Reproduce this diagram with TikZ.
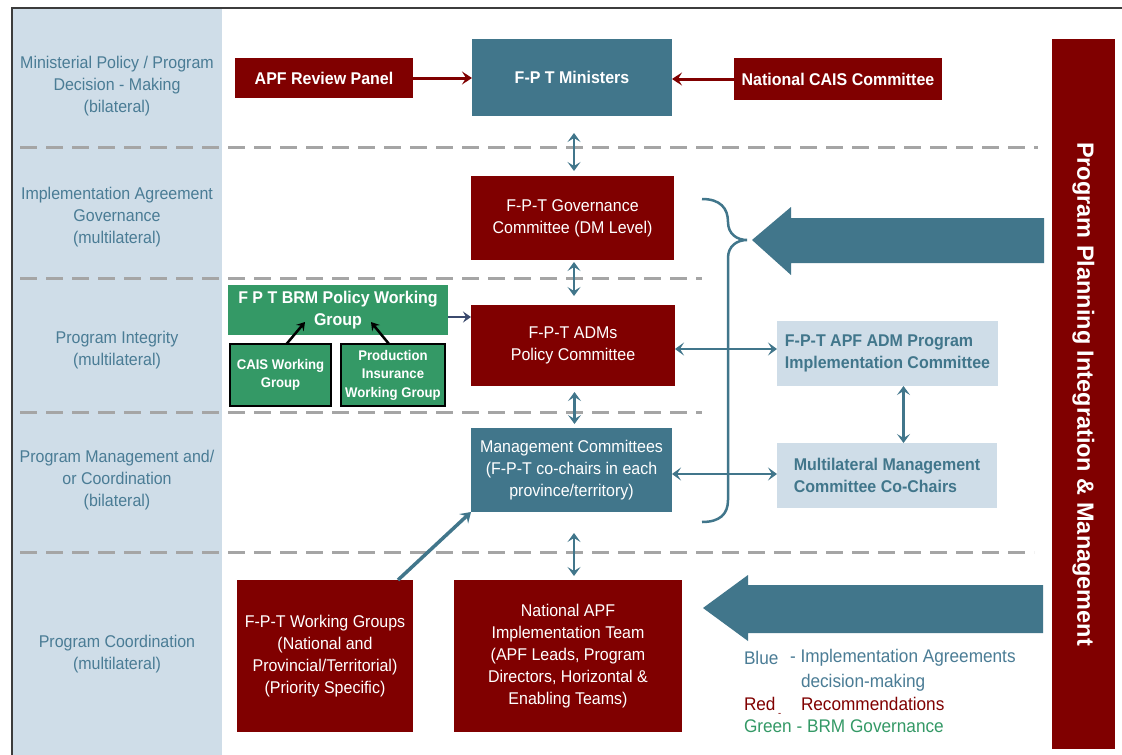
\documentclass[tikz,border=0pt]{standalone}
\usepackage{fontspec}
\setmainfont{Liberation Sans}[FakeStretch=0.94]
\newfontfamily\barfont{Liberation Sans}
\usetikzlibrary{arrows.meta,calc}
\definecolor{dred}{RGB}{128,0,0}
\definecolor{tblue}{RGB}{65,118,139}
\definecolor{lblue}{RGB}{207,221,232}
\definecolor{lgreen}{RGB}{52,153,102}
\definecolor{labtxt}{RGB}{74,124,149}
\definecolor{dashgray}{RGB}{165,165,165}
\definecolor{navy}{RGB}{59,74,110}
\definecolor{framegray}{RGB}{60,60,60}
\begin{document}
\begin{tikzpicture}[x=1pt,y=-1pt,
  every node/.style={inner sep=0pt,outer sep=0pt},
  bx/.style={anchor=north west,align=center,text=white,font=\fontsize{17}{22}\selectfont},
  redbox/.style={bx,fill=dred},
  bluebox/.style={bx,fill=tblue},
  greenbox/.style={bx,fill=lgreen},
  smallgreen/.style={bx,fill=lgreen,draw=black,line width=2.5pt,font=\fontsize{14}{18.5}\selectfont\bfseries},
  lightbox/.style={anchor=north west,fill=lblue,text=tblue,align=left,inner xsep=7pt,font=\fontsize{17}{22}\selectfont\bfseries},
  lab/.style={align=center,text=labtxt,font=\fontsize{17}{22}\selectfont},
  sep/.style={draw=dashgray,line width=3pt,dash pattern=on 17pt off 9pt},
  dbl/.style={draw=tblue,line width=2.8pt,{Stealth[length=9pt,width=13pt,inset=4pt]}-{Stealth[length=9pt,width=13pt,inset=4pt]}},
  redarr/.style={draw=dred,line width=3pt,-{Stealth[length=10pt,width=13pt,inset=4pt]}},
  bluearr/.style={draw=tblue,line width=3.5pt,-{Stealth[length=10pt,width=13pt,inset=4pt]}},
  navyarr/.style={draw=navy,line width=2.5pt,-{Stealth[length=8pt,width=11pt,inset=3pt]}},
  blkarr/.style={draw=black,line width=2.5pt,-{Stealth[length=8pt,width=10pt,inset=3pt]}},
  leg/.style={anchor=west,font=\fontsize{18.3}{22}\selectfont}
]
\useasboundingbox (0,0) rectangle (1122,755);
\fill[white] (0,0) rectangle (1122,755);
% left column and frame
\fill[lblue] (13,9) rectangle (222,755);
\draw[framegray,line width=2pt] (12,755) -- (12,8) -- (1122,8);

% row labels
\node[lab] (r1) at (117,86) {Ministerial Policy / Program\\Decision - Making\\(bilateral)};
\node[lab] (r2) at (117,217) {Implementation Agreement\\Governance\\(multilateral)};
\node[lab] (r3) at (117,350) {Program Integrity\\(multilateral)};
\node[lab] (r4) at (117,480) {Program Management and/\\or Coordination\\(bilateral)};
\node[lab] (r5) at (117,654) {Program Coordination\\(multilateral)};

% dashed separators
\draw[sep] (20,147) -- (1038,147);
\draw[sep] (20,278) -- (702,278);
\draw[sep] (20,412) -- (702,412);
\draw[sep] (20,552) -- (1034,552);

% boxes
\node[redbox,minimum width=178pt,minimum height=40pt] (apf) at (235,58) {\bfseries APF Review Panel};
\node[bluebox,minimum width=200pt,minimum height=77pt] (min) at (472,39) {\bfseries F-P T Ministers};
\node[redbox,minimum width=208pt,minimum height=42pt] (nc) at (734,58) {\bfseries National CAIS Committee};
\node[redbox,minimum width=203pt,minimum height=84pt] (gov) at (471,176) {F-P-T Governance\\Committee (DM Level)};
\node[greenbox,minimum width=220pt,minimum height=50pt] (brm) at (228,285) {\bfseries F P T BRM Policy Working\\\bfseries Group};
\node[smallgreen,minimum width=101pt,minimum height=62pt] (cais) at (230,344) {CAIS Working\\Group};
\node[smallgreen,minimum width=104pt,minimum height=62pt] (prod) at (341,344) {Production\\Insurance\\Working Group};
\node[redbox,minimum width=204pt,minimum height=81pt] (adm) at (471,305) {F-P-T ADMs\\Policy Committee};
\node[lightbox,minimum width=221pt,minimum height=65pt] (impl) at (777,321) {F-P-T APF ADM Program\\Implementation Committee};
\node[lightbox,minimum width=220pt,minimum height=65pt] (mult) at (777,443) {Multilateral Management\\Committee Co-Chairs};
\node[bluebox,minimum width=201pt,minimum height=84pt] (mg) at (471,428) {Management Committees\\(F-P-T co-chairs in each\\province/territory)};
\node[redbox,minimum width=176pt,minimum height=152pt] (wg) at (237,580) {F-P-T Working Groups\\(National and\\Provincial/Territorial)\\(Priority Specific)};
\node[redbox,minimum width=228pt,minimum height=152pt] (nat) at (454,580) {National APF\\Implementation Team\\(APF Leads, Program\\Directors, Horizontal \&\\Enabling Teams)};

% right bar
\node[fill=dred,anchor=north west,minimum width=63pt,minimum height=710pt] (bar) at (1052,39) {};
\node[rotate=-90,text=white,font=\barfont\bfseries\fontsize{23.5}{28}\selectfont] (bartxt) at (bar.center) {Program Planning Integration \& Management};

% big arrows
\fill[tblue] (752,240) -- (791,207) -- (791,218) -- (1044,218) -- (1044,263) -- (791,263) -- (791,275) -- cycle;
\fill[tblue] (703,608) -- (748,575) -- (748,585) -- (1043,585) -- (1043,633) -- (748,633) -- (748,641) -- cycle;

% brace
\draw[tblue,line width=2.5pt] (702,199) .. controls (720,199) and (728,208) .. (728,222)
  .. controls (728,234) and (737,240) .. (747,240)
  .. controls (737,240) and (728,246) .. (728,258) -- (728,500)
  .. controls (728,514) and (720,522) .. (702,522);

% red arrows
\draw[redarr] (apf.east) -- (apf.east -| min.west);
\draw[redarr] (nc.west) -- (nc.west -| min.east);

% vertical double arrows
\draw[dbl,shorten <=17pt,shorten >=5pt] ([xshift=2pt]min.south) -- ([xshift=2pt]min.south |- gov.north);
\draw[dbl,shorten <=2pt,shorten >=9pt] ([xshift=1.5pt]gov.south) -- ([xshift=1.5pt]gov.south |- adm.north);
\draw[dbl,shorten <=6pt,shorten >=4pt] ([xshift=1.5pt]adm.south) -- ([xshift=1.5pt]adm.south |- mg.north);
\draw[dbl,shorten <=21pt,shorten >=4pt] ([xshift=2.5pt]mg.south) -- ([xshift=2.5pt]mg.south |- nat.north);

% horizontal double arrows
\draw[dbl] ([yshift=-3.5pt]adm.east) -- ([yshift=-3.5pt]adm.east -| impl.west);
\draw[dbl] ([yshift=-4pt]mg.east) -- ([yshift=-4pt]mg.east -| mult.west);
\draw[dbl] ([xshift=16pt]impl.south) -- ([xshift=16pt]impl.south |- mult.north);

% BRM to ADMs
\draw[navyarr] ([yshift=-7pt]brm.east) -- ([yshift=-7pt]brm.east -| adm.west);

% working groups to BRM
\coordinate (caisend) at (305,322);
\coordinate (prodend) at (371,322);
\draw[blkarr] ([xshift=6pt]cais.north) -- (caisend);
\draw[blkarr] ([xshift=-4pt]prod.north) -- (prodend);

% WG to management committees
\coordinate (wgtop) at ($(wg.north east)+(-15,0)$);
\draw[bluearr] (wgtop) -- (mg.south west);

% legend
\node[leg,text=labtxt] (lb1) at (744,658) {Blue};
\node[leg,text=labtxt] (lb2) at (790,658) {- Implementation Agreements};
\node[leg,text=labtxt] (lb3) at (801,683) {decision-making};
\node[leg,text=dred] (lr1) at (744,704) {Red};
\node[leg,text=dred] (lr2) at (801,704) {Recommendations};
\node[leg,text=dred,font=\fontsize{10}{10}\selectfont] (lr3) at (778,715) {-};
\node[leg,text=lgreen] (lg1) at (744,726) {Green - BRM Governance};
\end{tikzpicture}
\end{document}
